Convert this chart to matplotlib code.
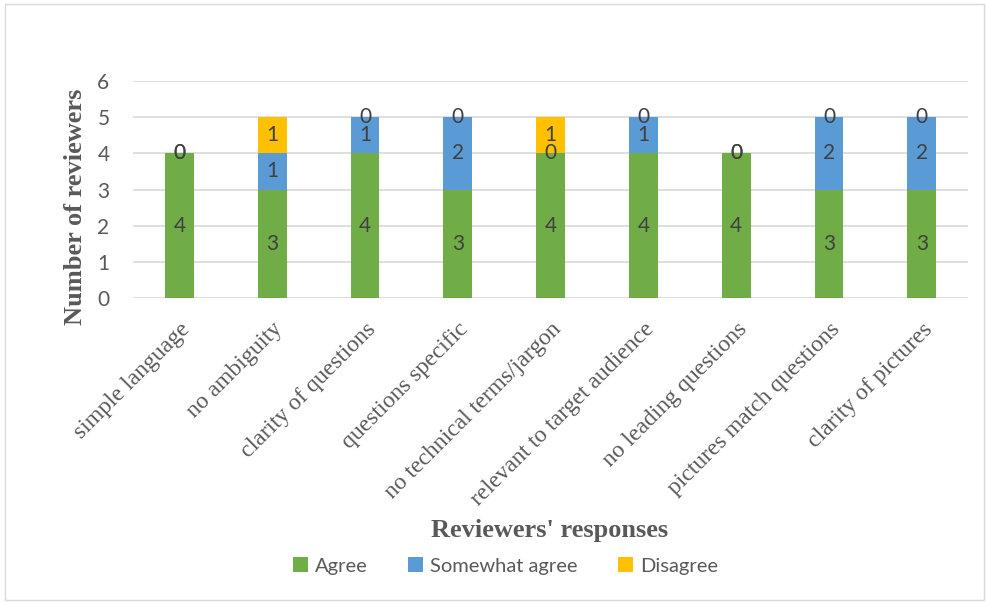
import matplotlib
matplotlib.use("Agg")
import matplotlib.pyplot as plt
from matplotlib.patches import Rectangle
import numpy as np

categories = [
    "simple language",
    "no ambiguity",
    "clarity of questions",
    "questions specific",
    "no technical terms/jargon",
    "relevant to target audience",
    "no leading questions",
    "pictures match questions",
    "clarity of pictures",
]
agree = [4, 3, 4, 3, 4, 4, 4, 3, 3]
somewhat_agree = [0, 1, 1, 2, 0, 1, 0, 2, 2]
disagree = [0, 1, 0, 0, 1, 0, 0, 0, 0]

series = [
    ("Agree", agree, "#70ad47"),
    ("Somewhat agree", somewhat_agree, "#5b9bd5"),
    ("Disagree", disagree, "#ffc000"),
]

SANS = ["Lato", "DejaVu Sans"]
SERIF = ["Liberation Serif", "DejaVu Serif"]
GRAY = "#595959"

fig = plt.figure(figsize=(9.87, 6.02), dpi=100)
ax = fig.add_axes([0.1348, 0.505, 0.8462, 0.3604])

x = np.arange(len(categories))
bottom = np.zeros(len(categories))
handles = []
for name, vals, color in series:
    bars = ax.bar(x, vals, width=0.31, bottom=bottom, color=color, label=name, zorder=3)
    # zero segments are labelled too, same as the source chart
    ax.bar_label(bars, labels=[str(v) for v in vals], label_type="center",
                 color="#404040", fontsize=15, family=SANS, zorder=4)
    handles.append(bars)
    bottom += np.array(vals)

ax.set_xlim(-0.5, len(categories) - 0.5)
ax.set_ylim(0, 6)
ax.set_yticks(range(0, 7))
ax.grid(axis="y", color="#d9d9d9", lw=1.2, zorder=0)
for s in ax.spines.values():
    s.set_visible(False)
ax.tick_params(axis="both", length=0)
ax.tick_params(axis="y", pad=17, labelsize=15, labelcolor=GRAY)
for lab in ax.get_yticklabels():
    lab.set_family(SANS)

ax.set_xticks(x)
ax.set_xticklabels(categories, rotation=45, ha="right", rotation_mode="anchor",
                   fontsize=17, color=GRAY, family=SERIF)
ax.tick_params(axis="x", pad=15)

fig.text(0.076, 0.656, "Number of reviewers", rotation=90, ha="center", va="center",
         fontsize=19, fontweight="bold", color=GRAY, family=SERIF)
fig.text(0.557, 0.118, "Reviewers' responses", ha="center", va="center",
         fontsize=19, fontweight="bold", color=GRAY, family=SERIF)

fig.legend(handles=handles, loc="center", bbox_to_anchor=(0.512, 0.06), ncol=3,
           frameon=False, prop={"family": SANS, "size": 14.5}, labelcolor=GRAY,
           handlelength=0.75, handleheight=0.75, handletextpad=0.35, columnspacing=2.0)

fig.patches.append(Rectangle((0.005, 0.003), 0.992, 0.99, transform=fig.transFigure,
                             fill=False, edgecolor="#d9d9d9", lw=1))

fig.savefig("out.png", dpi=100)
